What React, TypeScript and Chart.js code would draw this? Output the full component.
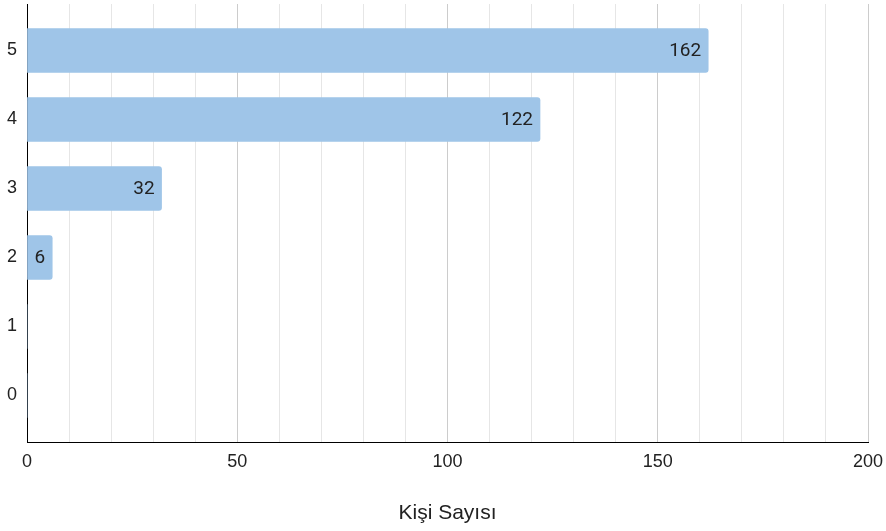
import React, { useEffect, useRef } from "react";
import { Chart, registerables } from "chart.js";

Chart.register(...registerables);

const categories: string[] = ["0", "1", "2", "3", "4", "5"];
const values: number[] = [0, 0, 6, 32, 122, 162];
const xTickLabels: number[] = [0, 50, 100, 150, 200];
const xAxisTitle = "Kişi Sayısı";

const valueLabelPlugin = {
  id: "valueLabels",
  afterDatasetsDraw(chart: any) {
    const ctx = chart.ctx;
    const meta = chart.getDatasetMeta(0);
    ctx.save();
    ctx.font = "19px Roboto";
    ctx.fillStyle = "#222222";
    ctx.textAlign = "right";
    ctx.textBaseline = "middle";
    meta.data.forEach((bar: any, i: number) => {
      const v = values[i];
      if (!v) return;
      ctx.fillText(String(v), bar.x - 7, bar.y + 1);
    });
    ctx.restore();
  },
};

export default function App() {
  const ref = useRef<HTMLCanvasElement | null>(null);
  useEffect(() => {
    if (!ref.current) return;
    const chart = new Chart(ref.current, {
      type: "bar",
      data: {
        datasets: [
          {
            data: values.map((v, i) => ({ x: v, y: i })),
            backgroundColor: "#9fc5e8",
            borderRadius: 3,
            borderSkipped: "start",
            barThickness: 44,
          },
        ],
      },
      options: {
        indexAxis: "y",
        animation: false,
        responsive: false,
        maintainAspectRatio: false,
        layout: { padding: { left: 0, right: 18, top: 4, bottom: 0 } },
        plugins: { legend: { display: false }, tooltip: { enabled: false } },
        scales: {
          x: {
            type: "linear",
            min: 0,
            max: 200,
            ticks: {
              stepSize: 10,
              autoSkip: false,
              maxRotation: 0,
              padding: 9,
              color: "#222222",
              font: { family: "Liberation Sans", size: 18 },
              callback: (v: any) => (xTickLabels.includes(Number(v)) ? String(v) : ""),
            },
            grid: {
              drawTicks: false,
              color: (c: any) => (c.tick && c.tick.value % 50 === 0 ? "#cccccc" : "#e6e6e6"),
              lineWidth: 1,
            },
            border: { display: true, color: "#000000", width: 1 },
            title: {
              display: true,
              text: xAxisTitle,
              color: "#222222",
              font: { family: "Liberation Sans", size: 21 },
              padding: { top: 0, bottom: 5 },
            },
            afterFit: (s: any) => {
              s.height = 89;
              s.paddingLeft = 0;
              s.paddingRight = 0;
            },
          },
          y: {
            type: "linear",
            offset: false,
            min: -0.674,
            max: 5.674,
            afterBuildTicks: (s: any) => {
              s.ticks = categories.map((_, i) => ({ value: i }));
            },
            ticks: {
              padding: 10,
              color: "#222222",
              font: { family: "Liberation Sans", size: 18 },
              callback: (v: any) => categories[Number(v)] ?? "",
            },
            grid: { display: false, drawTicks: false },
            border: { display: true, color: "#000000", width: 1 },
            afterFit: (s: any) => {
              s.width = 27;
              s.paddingTop = 0;
              s.paddingBottom = 0;
            },
          },
        },
      } as any,
      plugins: [valueLabelPlugin],
    });
    return () => chart.destroy();
  }, []);
  return (
    <div style={{ position: "fixed", left: 0, top: 0, width: 886, height: 531, background: "#fff" }}>
      <canvas ref={ref} width={886} height={531} style={{ width: 886, height: 531 }} />
    </div>
  );
}
